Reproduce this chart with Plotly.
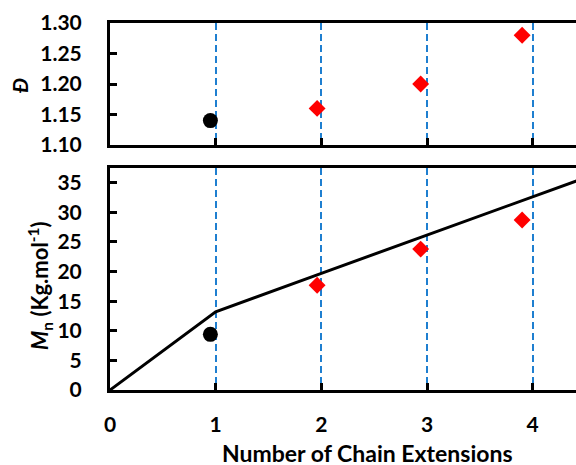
import plotly.graph_objects as go

# Dispersity and molar mass versus number of chain extensions
macro_x = [0.95]
macro_disp = [1.14]
macro_mn = [9.4]

ext_x = [1.96, 2.94, 3.90]
ext_disp = [1.16, 1.20, 1.28]
ext_mn = [17.7, 23.8, 28.7]

# theoretical molar mass
theo_x = [0, 1, 2, 3, 4, 5]
theo_mn = [0, 13.2, 19.7, 26.2, 32.6, 39.1]

x_ticks = [0, 1, 2, 3, 4]
disp_ticks = [1.10, 1.15, 1.20, 1.25, 1.30]
mn_ticks = [0, 5, 10, 15, 20, 25, 30, 35]

FONT = "Lato"

fig = go.Figure()

fig.add_trace(go.Scatter(x=theo_x, y=theo_mn, mode="lines",
                         line=dict(color="black", width=3),
                         xaxis="x", yaxis="y", showlegend=False))
fig.add_trace(go.Scatter(x=macro_x, y=macro_mn, mode="markers",
                         marker=dict(color="black", size=15, symbol="circle"),
                         xaxis="x", yaxis="y", showlegend=False))
fig.add_trace(go.Scatter(x=ext_x, y=ext_mn, mode="markers",
                         marker=dict(color="#ff0000", size=13, symbol="diamond"),
                         xaxis="x", yaxis="y", showlegend=False))
fig.add_trace(go.Scatter(x=macro_x, y=macro_disp, mode="markers",
                         marker=dict(color="black", size=15, symbol="circle"),
                         xaxis="x2", yaxis="y2", showlegend=False))
fig.add_trace(go.Scatter(x=ext_x, y=ext_disp, mode="markers",
                         marker=dict(color="#ff0000", size=13, symbol="diamond"),
                         xaxis="x2", yaxis="y2", showlegend=False))

axis_common = dict(showline=True, linecolor="black", linewidth=3,
                   ticks="inside", ticklen=7, tickwidth=3, tickcolor="black",
                   zeroline=False,
                   tickfont=dict(family=FONT, size=21, color="black", weight="bold"))
x_common = dict(axis_common, range=[0, 4.41], tickvals=x_ticks,
                showgrid=True, gridcolor="#1f7fd0", gridwidth=2,
                griddash="7px,4px", mirror=True)

fig.update_layout(
    width=576, height=465,
    margin=dict(l=110, r=0, t=23, b=75),
    paper_bgcolor="white", plot_bgcolor="white",
    xaxis=dict(x_common, anchor="y", ticklabelstandoff=14),
    yaxis=dict(axis_common, domain=[0, 0.605], range=[0, 37.5],
               tickvals=mn_ticks, showgrid=False, ticklabelstandoff=21),
    xaxis2=dict(x_common, anchor="y2", showticklabels=False, matches="x"),
    yaxis2=dict(axis_common, domain=[0.6676, 1], range=[1.10, 1.30],
                tickvals=disp_ticks, tickformat=".2f", showgrid=False,
                ticklabelstandoff=21),
)

fig.add_annotation(text="<b>Number of Chain Extensions</b>", xref="paper", yref="paper",
                   x=(367 - 110) / 466, y=-(453 - 390) / 367,
                   xanchor="center", yanchor="middle", showarrow=False,
                   font=dict(family=FONT, size=23, color="black"))
fig.add_annotation(text="<b><i>Đ</i></b>", xref="paper", yref="paper",
                   x=-(110 - 19) / 466, y=(390 - 86) / 367, textangle=-90,
                   xanchor="center", yanchor="middle", showarrow=False,
                   font=dict(family=FONT, size=21, color="black"))
fig.add_annotation(text="<b><i>M</i><sub>n</sub> (Kg.mol<sup>-1</sup>)</b>", xref="paper", yref="paper",
                   x=-(110 - 40) / 466, y=(390 - 286) / 367, textangle=-90,
                   xanchor="center", yanchor="middle", showarrow=False,
                   font=dict(family=FONT, size=22, color="black"))

fig.write_html("out.html")
